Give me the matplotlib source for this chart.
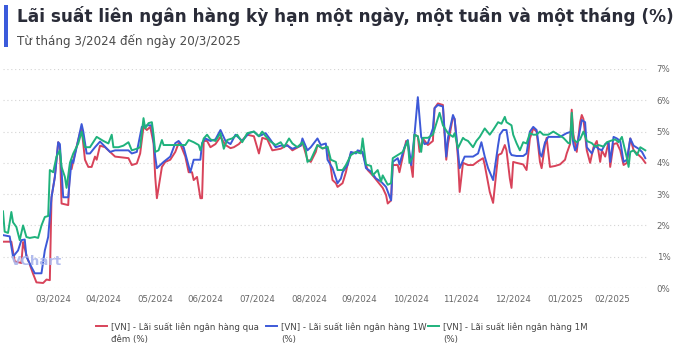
import matplotlib
matplotlib.use("Agg")
import matplotlib.pyplot as plt
from matplotlib.lines import Line2D
from matplotlib.patches import Rectangle
import numpy as np
import pandas as pd

# ---- du lieu doc tu bieu do (%/nam) ----
ngay_qua_dem = [
    "2024-03-01", "2024-03-06", "2024-03-08", "2024-03-12", "2024-03-13", "2024-03-15", "2024-03-19", "2024-03-21",
    "2024-03-25", "2024-03-27", "2024-03-29", "2024-03-30",
    "2024-04-01", "2024-04-03", "2024-04-04", "2024-04-05", "2024-04-09", "2024-04-10", "2024-04-11", "2024-04-13",
    "2024-04-16", "2024-04-17", "2024-04-19", "2024-04-21", "2024-04-23", "2024-04-25", "2024-04-26", "2024-04-28",
    "2024-05-01", "2024-05-04", "2024-05-07", "2024-05-10", "2024-05-15", "2024-05-17", "2024-05-20", "2024-05-22",
    "2024-05-24", "2024-05-26", "2024-05-28", "2024-05-30", "2024-05-31",
    "2024-06-01", "2024-06-02", "2024-06-04", "2024-06-06", "2024-06-09", "2024-06-12", "2024-06-14", "2024-06-15",
    "2024-06-18", "2024-06-20", "2024-06-22", "2024-06-23", "2024-06-25", "2024-06-27", "2024-06-28", "2024-06-29",
    "2024-07-01", "2024-07-03", "2024-07-06", "2024-07-09", "2024-07-12", "2024-07-15", "2024-07-17", "2024-07-20",
    "2024-07-25", "2024-07-29",
    "2024-08-01", "2024-08-03", "2024-08-06", "2024-08-09", "2024-08-14", "2024-08-18", "2024-08-21", "2024-08-26",
    "2024-08-27", "2024-08-30",
    "2024-09-01", "2024-09-04", "2024-09-05", "2024-09-08", "2024-09-11", "2024-09-12", "2024-09-14", "2024-09-16",
    "2024-09-17", "2024-09-20", "2024-09-22", "2024-09-23", "2024-09-25", "2024-09-29",
    "2024-10-01", "2024-10-02", "2024-10-05", "2024-10-08", "2024-10-11", "2024-10-14", "2024-10-16", "2024-10-17",
    "2024-10-19", "2024-10-20", "2024-10-23", "2024-10-24", "2024-10-26", "2024-10-28", "2024-10-29",
    "2024-11-01", "2024-11-02", "2024-11-04", "2024-11-05", "2024-11-07", "2024-11-10", "2024-11-13", "2024-11-14",
    "2024-11-16", "2024-11-19", "2024-11-20", "2024-11-21", "2024-11-22", "2024-11-25", "2024-11-26", "2024-11-28",
    "2024-11-29",
    "2024-12-01", "2024-12-04", "2024-12-07", "2024-12-10", "2024-12-13", "2024-12-14", "2024-12-17", "2024-12-19",
    "2024-12-22", "2024-12-24", "2024-12-26", "2024-12-27", "2024-12-29", "2024-12-30", "2024-12-31",
    "2025-01-02", "2025-01-06", "2025-01-08", "2025-01-10", "2025-01-12", "2025-01-14", "2025-01-16", "2025-01-17",
    "2025-01-19", "2025-01-20", "2025-01-22", "2025-01-25", "2025-01-28", "2025-01-31",
    "2025-02-01", "2025-02-03", "2025-02-04", "2025-02-05", "2025-02-07", "2025-02-09", "2025-02-10", "2025-02-11",
    "2025-02-13", "2025-02-15", "2025-02-17", "2025-02-19", "2025-02-21", "2025-02-22", "2025-02-24", "2025-02-26",
    "2025-02-27",
    "2025-03-01", "2025-03-03", "2025-03-05", "2025-03-07", "2025-03-09", "2025-03-11", "2025-03-13", "2025-03-15",
    "2025-03-18", "2025-03-20",
]
lai_qua_dem = [
    1.48, 1.48, 0.85, 0.80, 1.47, 1.05, 0.45, 0.18, 0.16, 0.27, 0.25, 2.90,
    3.55, 4.66, 4.50, 2.70, 2.65, 3.87, 3.80, 4.30, 4.95, 5.10, 4.10, 3.87, 3.87, 4.20, 4.10, 4.55,
    4.50, 4.35, 4.20, 4.18, 4.15, 3.93, 3.98, 4.30, 5.15, 5.05, 5.15, 4.63, 3.55,
    2.87, 3.20, 3.87, 4.03, 4.10, 4.35, 4.63, 4.60, 4.20, 3.70, 3.70, 3.45, 3.55, 2.87, 2.87, 4.70,
    4.70, 4.50, 4.60, 4.83, 4.57, 4.47, 4.50, 4.60, 4.90, 4.85,
    4.30, 4.80, 4.75, 4.40, 4.45, 4.57, 4.40, 4.55, 4.66, 4.10,
    4.03, 4.35, 4.57, 4.46, 4.50, 4.20, 3.45, 3.35, 3.23, 3.35, 3.70, 3.95, 4.30, 4.35,
    4.40, 4.30, 3.77, 3.60, 3.40, 3.20, 2.97, 2.70, 2.80, 3.93, 3.93, 3.70, 4.20, 4.70, 4.60,
    3.55, 4.90, 4.85, 4.35, 4.78, 4.57, 4.70, 5.75, 5.90, 5.85, 4.90, 4.10, 4.60, 5.47, 5.40, 4.15, 3.07,
    4.00, 3.93, 3.93, 4.05, 4.15, 3.93, 3.07, 2.72, 4.25, 4.30, 4.57, 4.40, 3.50, 3.20, 4.03,
    4.00, 3.95, 3.77, 4.78, 5.10, 5.00, 4.03, 3.83, 4.57, 4.80, 3.87, 3.90, 3.95, 4.10,
    4.30, 4.60, 5.70, 4.90, 4.35, 5.30, 5.53, 5.40, 4.40, 4.00, 4.50, 4.70, 4.03, 4.40, 4.20, 4.66, 3.87,
    4.60, 4.63, 4.40, 3.93, 4.00, 4.78, 4.40, 4.30, 4.15, 4.00,
]

ngay_1w = [
    "2024-03-01", "2024-03-05", "2024-03-07", "2024-03-10", "2024-03-12", "2024-03-14", "2024-03-15", "2024-03-18",
    "2024-03-20", "2024-03-24", "2024-03-26", "2024-03-28", "2024-03-30",
    "2024-04-01", "2024-04-03", "2024-04-04", "2024-04-06", "2024-04-09", "2024-04-11", "2024-04-12", "2024-04-14",
    "2024-04-17", "2024-04-18", "2024-04-20", "2024-04-22", "2024-04-25", "2024-04-28",
    "2024-05-04", "2024-05-07", "2024-05-15", "2024-05-17", "2024-05-20", "2024-05-23", "2024-05-26", "2024-05-29",
    "2024-05-31",
    "2024-06-01", "2024-06-03", "2024-06-05", "2024-06-09", "2024-06-12", "2024-06-14", "2024-06-17", "2024-06-19",
    "2024-06-21", "2024-06-23", "2024-06-27", "2024-06-28", "2024-06-30",
    "2024-07-03", "2024-07-06", "2024-07-09", "2024-07-12", "2024-07-15", "2024-07-18", "2024-07-22", "2024-07-26",
    "2024-07-29",
    "2024-08-01", "2024-08-05", "2024-08-08", "2024-08-11", "2024-08-14", "2024-08-18", "2024-08-21", "2024-08-26",
    "2024-08-27", "2024-08-30",
    "2024-09-01", "2024-09-05", "2024-09-07", "2024-09-10", "2024-09-11", "2024-09-14", "2024-09-17", "2024-09-19",
    "2024-09-20", "2024-09-23", "2024-09-25", "2024-09-28", "2024-09-29",
    "2024-10-02", "2024-10-04", "2024-10-07", "2024-10-10", "2024-10-13", "2024-10-16", "2024-10-19", "2024-10-20",
    "2024-10-23", "2024-10-24", "2024-10-27", "2024-10-29", "2024-10-31",
    "2024-11-02", "2024-11-04", "2024-11-06", "2024-11-08", "2024-11-10", "2024-11-13", "2024-11-14", "2024-11-16",
    "2024-11-19", "2024-11-20", "2024-11-21", "2024-11-22", "2024-11-25", "2024-11-26", "2024-11-28", "2024-11-29",
    "2024-12-02", "2024-12-04", "2024-12-07", "2024-12-10", "2024-12-12", "2024-12-14", "2024-12-16", "2024-12-19",
    "2024-12-22", "2024-12-23", "2024-12-25", "2024-12-27", "2024-12-28", "2024-12-29", "2024-12-30",
    "2025-01-02", "2025-01-06", "2025-01-08", "2025-01-10", "2025-01-12", "2025-01-14", "2025-01-16", "2025-01-17",
    "2025-01-19", "2025-01-21", "2025-01-24", "2025-01-28",
    "2025-02-01", "2025-02-04", "2025-02-05", "2025-02-06", "2025-02-07", "2025-02-10", "2025-02-12", "2025-02-13",
    "2025-02-16", "2025-02-18", "2025-02-20", "2025-02-22", "2025-02-24", "2025-02-26", "2025-02-27",
    "2025-03-01", "2025-03-03", "2025-03-05", "2025-03-07", "2025-03-09", "2025-03-11", "2025-03-13", "2025-03-16",
    "2025-03-18", "2025-03-20",
]
lai_1w = [
    1.69, 1.65, 1.00, 1.20, 1.53, 1.55, 1.00, 0.67, 0.47, 0.47, 1.20, 1.63, 2.90,
    3.55, 4.66, 4.60, 2.90, 2.90, 4.10, 4.00, 4.50, 5.24, 5.00, 4.30, 4.30, 4.50, 4.68,
    4.35, 4.40, 4.40, 4.30, 4.35, 5.15, 5.20, 5.20, 4.20,
    3.83, 3.93, 4.03, 4.20, 4.63, 4.70, 4.50, 4.10, 3.70, 4.10, 4.10, 4.63, 4.78,
    4.70, 4.75, 5.05, 4.70, 4.60, 4.90, 4.70, 4.95, 5.00,
    4.85, 4.95, 4.73, 4.50, 4.55, 4.55, 4.45, 4.55, 4.78, 4.40,
    4.50, 4.78, 4.57, 4.62, 4.10, 3.83, 3.35, 3.50, 3.70, 3.93, 4.35, 4.30, 4.40,
    4.35, 3.83, 3.72, 3.50, 3.40, 3.23, 2.80, 4.03, 4.15, 3.95, 4.50, 4.73, 3.93,
    4.90, 6.10, 4.83, 4.60, 4.63, 5.10, 5.75, 5.85, 5.80, 5.00, 4.20, 4.80, 5.53, 5.40, 4.35, 3.83,
    4.20, 4.20, 4.20, 4.30, 4.66, 4.20, 3.83, 3.45, 4.57, 4.90, 5.05, 5.05, 4.70, 4.35, 4.25,
    4.22, 4.22, 4.30, 5.00, 5.15, 5.05, 4.30, 4.20, 4.65, 4.83, 4.83, 4.83,
    4.95, 5.00, 4.60, 4.40, 4.50, 5.37, 5.30, 4.50, 4.30, 4.55, 4.45, 4.40, 4.60, 4.66, 4.03,
    4.83, 4.78, 4.70, 4.03, 4.10, 4.78, 4.55, 4.45, 4.35, 4.15,
]

ngay_1m = [
    "2024-03-01", "2024-03-02", "2024-03-04", "2024-03-06", "2024-03-07", "2024-03-09", "2024-03-11", "2024-03-13",
    "2024-03-15", "2024-03-17", "2024-03-20", "2024-03-22", "2024-03-24", "2024-03-26", "2024-03-28", "2024-03-29",
    "2024-03-31",
    "2024-04-02", "2024-04-04", "2024-04-05", "2024-04-07", "2024-04-08", "2024-04-10", "2024-04-12", "2024-04-15",
    "2024-04-17", "2024-04-19", "2024-04-22", "2024-04-26", "2024-04-30",
    "2024-05-03", "2024-05-05", "2024-05-06", "2024-05-09", "2024-05-12", "2024-05-15", "2024-05-17", "2024-05-20",
    "2024-05-22", "2024-05-24", "2024-05-25", "2024-05-27", "2024-05-29", "2024-05-30", "2024-05-31",
    "2024-06-02", "2024-06-04", "2024-06-05", "2024-06-12", "2024-06-18", "2024-06-20", "2024-06-23", "2024-06-26",
    "2024-06-27", "2024-06-29",
    "2024-07-01", "2024-07-03", "2024-07-06", "2024-07-09", "2024-07-11", "2024-07-13", "2024-07-16", "2024-07-19",
    "2024-07-22", "2024-07-25", "2024-07-29",
    "2024-08-01", "2024-08-03", "2024-08-05", "2024-08-08", "2024-08-11", "2024-08-14", "2024-08-16", "2024-08-19",
    "2024-08-21", "2024-08-24", "2024-08-27", "2024-08-29", "2024-08-30",
    "2024-09-01", "2024-09-04", "2024-09-05", "2024-09-08", "2024-09-11", "2024-09-13", "2024-09-16", "2024-09-17",
    "2024-09-20", "2024-09-22", "2024-09-25", "2024-09-28",
    "2024-10-01", "2024-10-02", "2024-10-04", "2024-10-07", "2024-10-08", "2024-10-11", "2024-10-13", "2024-10-14",
    "2024-10-17", "2024-10-19", "2024-10-20", "2024-10-23", "2024-10-26", "2024-10-29", "2024-10-30",
    "2024-11-01", "2024-11-02", "2024-11-04", "2024-11-06", "2024-11-07", "2024-11-10", "2024-11-13", "2024-11-16",
    "2024-11-17", "2024-11-19", "2024-11-22", "2024-11-25", "2024-11-26", "2024-11-28",
    "2024-12-01", "2024-12-02", "2024-12-04", "2024-12-07", "2024-12-09", "2024-12-11", "2024-12-14", "2024-12-17",
    "2024-12-19", "2024-12-22", "2024-12-24", "2024-12-26", "2024-12-27", "2024-12-30", "2024-12-31",
    "2025-01-02", "2025-01-04", "2025-01-06", "2025-01-08", "2025-01-10", "2025-01-12", "2025-01-14", "2025-01-16",
    "2025-01-18", "2025-01-21", "2025-01-24", "2025-01-27", "2025-01-30",
    "2025-02-02", "2025-02-03", "2025-02-04", "2025-02-05", "2025-02-07", "2025-02-09", "2025-02-11", "2025-02-13",
    "2025-02-16", "2025-02-18", "2025-02-20", "2025-02-23", "2025-02-25", "2025-02-27",
    "2025-03-02", "2025-03-04", "2025-03-06", "2025-03-09", "2025-03-10", "2025-03-11", "2025-03-13", "2025-03-15",
    "2025-03-17", "2025-03-20",
]
lai_1m = [
    2.45, 1.80, 1.76, 2.43, 2.10, 1.95, 1.53, 2.00, 1.63, 1.60, 1.63, 1.60, 2.00, 2.27, 2.30, 3.77, 3.70,
    4.20, 4.40, 3.87, 3.55, 3.20, 4.00, 4.30, 4.62, 5.00, 4.50, 4.50, 4.83, 4.70,
    4.62, 4.90, 4.50, 4.50, 4.55, 4.66, 4.40, 4.45, 4.50, 5.43, 5.10, 5.27, 5.30, 4.90, 4.35,
    4.40, 4.73, 4.57, 4.57, 4.57, 4.73, 4.66, 4.57, 4.40, 4.78,
    4.90, 4.75, 4.70, 4.95, 4.45, 4.73, 4.78, 4.90, 4.66, 4.95, 5.00,
    4.85, 5.00, 4.85, 4.68, 4.57, 4.66, 4.50, 4.78, 4.62, 4.50, 4.66, 4.40, 4.03,
    4.10, 4.45, 4.57, 4.46, 4.52, 4.10, 4.03, 3.77, 3.77, 3.93, 4.25, 4.35,
    4.30, 4.78, 3.95, 3.90, 3.60, 3.77, 3.40, 3.60, 3.30, 3.35, 4.15, 4.25, 4.35, 4.70, 4.00,
    4.20, 4.90, 4.85, 4.35, 4.80, 4.80, 4.90, 5.43, 5.60, 5.20, 4.95, 4.83, 4.95, 4.47,
    4.80, 4.75, 4.70, 4.50, 4.70, 4.83, 5.10, 4.90, 5.05, 5.30, 5.25, 5.47, 5.30, 5.20, 4.90,
    4.63, 4.40, 4.66, 4.62, 4.95, 4.90, 4.90, 5.00, 4.90, 4.90, 5.00, 4.90, 4.80,
    4.63, 4.63, 5.60, 4.75, 4.66, 4.75, 5.00, 4.70, 4.63, 4.52, 4.57, 4.52, 4.66, 4.70,
    4.75, 4.66, 4.83, 4.15, 3.87, 4.35, 4.40, 4.25, 4.50, 4.40,
]

ten_chuoi = [
    "[VN] - Lãi suất liên ngân hàng qua\nđêm (%)",
    "[VN] - Lãi suất liên ngân hàng 1W\n(%)",
    "[VN] - Lãi suất liên ngân hàng 1M\n(%)",
]
mau = ["#d8435a", "#3d59d8", "#1fb27c"]

muc_y = [0, 1, 2, 3, 4, 5, 6, 7]
moc_thang = pd.date_range("2024-03-31", "2025-02-28", freq="ME")
nhan_thang = [d.strftime("%m/%Y") for d in moc_thang]

W, H = 700, 352
fig = plt.figure(figsize=(W / 100, H / 100), dpi=100)
fig.patch.set_facecolor("white")

# tieu de + vach xanh ben trai
fig.add_artist(Rectangle((4 / W, 1 - 47 / H), 4 / W, 42 / H, transform=fig.transFigure,
                         color="#3b5bdb", lw=0))
fig.text(17 / W, 1 - 22 / H, "Lãi suất liên ngân hàng kỳ hạn một ngày, một tuần và một tháng (%)",
         fontsize=12.2, fontweight="bold", color="#2a2c38", va="baseline", ha="left")
fig.text(17 / W, 1 - 45 / H, "Từ tháng 3/2024 đến ngày 20/3/2025",
         fontsize=8.6, color="#4a4a4a", va="baseline", ha="left")

ax = fig.add_axes([3 / W, 64 / H, 644 / W, 219 / H])
ax.set_facecolor("white")

cac_chuoi = [(ngay_qua_dem, lai_qua_dem), (ngay_1w, lai_1w), (ngay_1m, lai_1m)]
for (ngay, lai), c in zip(cac_chuoi, mau):
    ax.plot(pd.to_datetime(ngay), lai, color=c, lw=1.4, solid_joinstyle="round", zorder=3)

ax.set_ylim(0, 7)
ax.set_xlim(pd.Timestamp("2024-03-01"), pd.Timestamp("2025-03-21"))
ax.set_yticks(muc_y)
ax.set_yticklabels([f"{v}%" for v in muc_y])
ax.yaxis.tick_right()
ax.set_xticks(moc_thang)
ax.set_xticklabels(nhan_thang)
ax.tick_params(axis="both", length=0, labelsize=6.2, labelcolor="#666666")
ax.tick_params(axis="y", pad=7)
ax.tick_params(axis="x", pad=5)
ax.grid(axis="y", color="#d4d4d4", lw=0.8, linestyle=(0, (1, 2.5)))
ax.grid(axis="x", visible=False)
for s in ax.spines.values():
    s.set_visible(False)

# watermark
ax.text(0.012, 0.12, "VChart", transform=ax.transAxes, fontsize=9.5, fontweight="bold",
        color="#aab5ec", alpha=0.9, va="center", ha="left", zorder=4)

# chu giai ben duoi
x_duong = [96, 266, 428]
for xd, c, t in zip(x_duong, mau, ten_chuoi):
    fig.add_artist(Line2D([xd / W, (xd + 11) / W], [1 - 326 / H, 1 - 326 / H],
                          transform=fig.transFigure, color=c, lw=1.4))
    fig.text((xd + 15) / W, 1 - 322 / H, t, fontsize=6.2, color="#444444",
             va="top", ha="left", linespacing=1.45)

fig.savefig("out.png", dpi=100, facecolor="white")
